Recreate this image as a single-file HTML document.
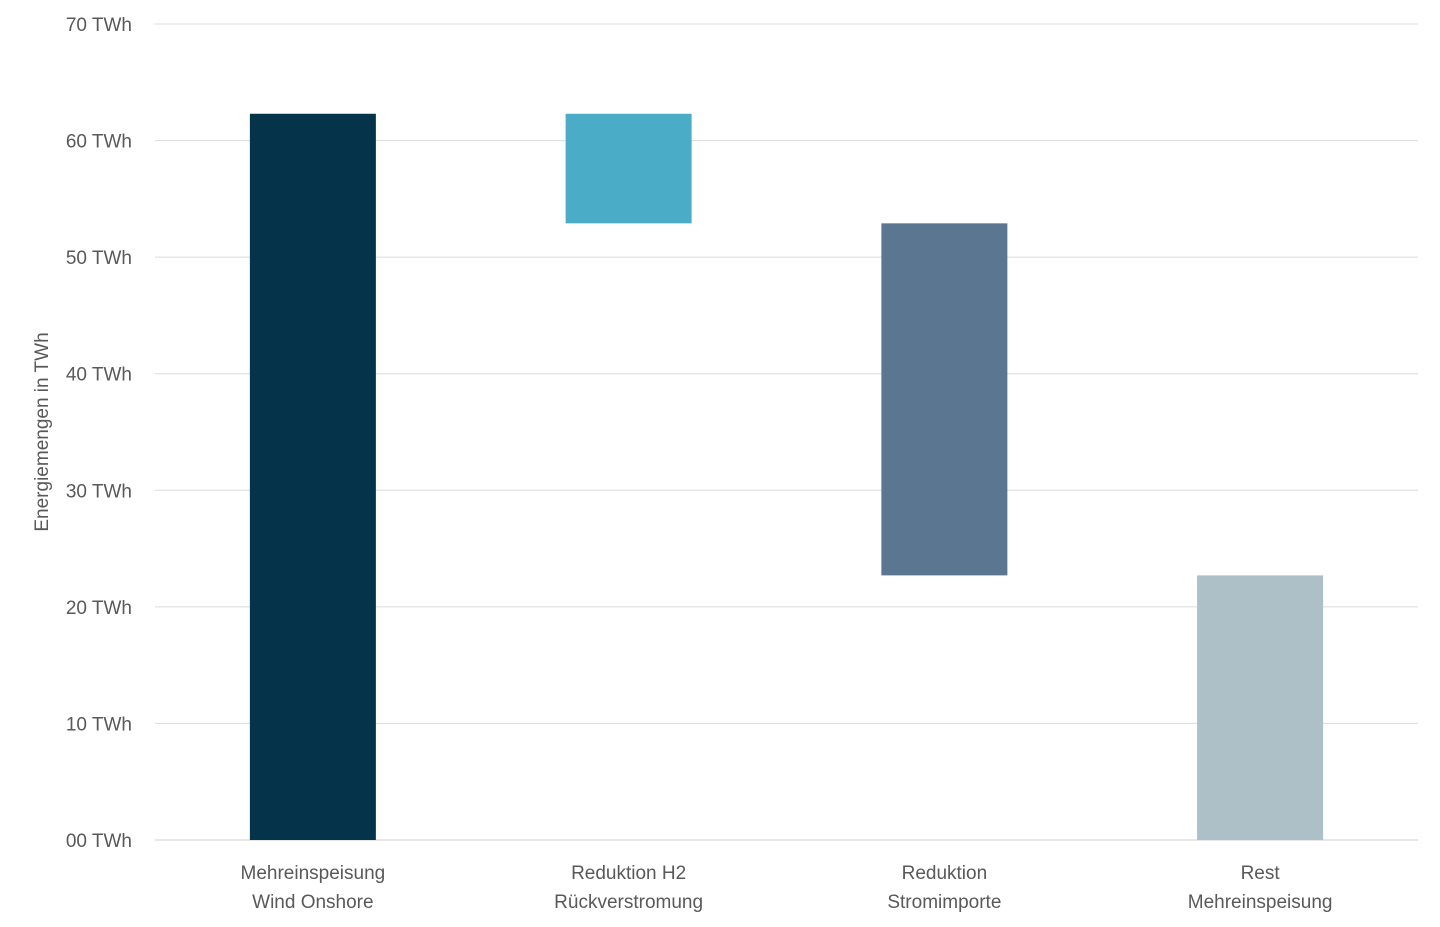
<!DOCTYPE html>
<html><head><meta charset="utf-8"><style>
html,body{margin:0;padding:0;background:#fff;}
svg{display:block;font-family:"Liberation Sans",sans-serif;}
</style></head><body>
<svg id="chart" width="1440" height="927">
<g id="grid"></g><g id="bars"></g><g id="ylabels"></g><g id="xlabels"></g>
<text transform="translate(48,432) rotate(-90)" text-anchor="middle" font-size="19" fill="#595959">Energiemengen in TWh</text>
</svg>
<script>
const categories=[["Mehreinspeisung","Wind Onshore"],["Reduktion H2","Rückverstromung"],["Reduktion","Stromimporte"],["Rest","Mehreinspeisung"]];
const barStarts=[0,62.3,52.9,0];
const barEnds=[62.3,52.9,22.7,22.7];
const barColors=["#05344a","#4aacc6","#5b7690","#adbfc7"];
const yTicks=[0,10,20,30,40,50,60,70];
const yTickLabels=["00 TWh","10 TWh","20 TWh","30 TWh","40 TWh","50 TWh","60 TWh","70 TWh"];
const ns="http://www.w3.org/2000/svg";
const x0=155,x1=1418,yTop=24,yBot=840,yMax=70;
const y=v=>yBot-(v/yMax)*(yBot-yTop);
const band=(x1-x0)/categories.length;
const cx=i=>x0+band*(i+0.5);
const bw=126;
function mk(tag,attrs,parent){const e=document.createElementNS(ns,tag);for(const k in attrs)e.setAttribute(k,attrs[k]);parent.appendChild(e);return e;}
const grid=document.getElementById('grid'),yl=document.getElementById('ylabels');
yTicks.forEach((t,i)=>{
 const l=mk('line',{x1:x0,x2:x1,y1:y(t),y2:y(t),stroke:t===0?'#cfcfcf':'#dcdcdc','stroke-width':1},grid);
 
 
 const tx=mk('text',{x:132,y:y(t)+7,'text-anchor':'end','font-size':19,fill:'#595959'},yl);
 tx.textContent=yTickLabels[i];
 
 
});
const bars=document.getElementById('bars'),xl=document.getElementById('xlabels');
categories.forEach((c,i)=>{
 const a=y(Math.max(barStarts[i],barEnds[i])),b=y(Math.min(barStarts[i],barEnds[i]));
 const r=mk('rect',{x:cx(i)-bw/2,y:a,width:bw,height:b-a,fill:barColors[i]},bars);
 
 
 const t=mk('text',{x:cx(i),'text-anchor':'middle','font-size':19,fill:'#595959'},xl);
 
 
 c.forEach((line,j)=>{const s=mk('tspan',{x:cx(i),y:879+j*29},t);s.textContent=line;});
});
</script>
</body></html>
